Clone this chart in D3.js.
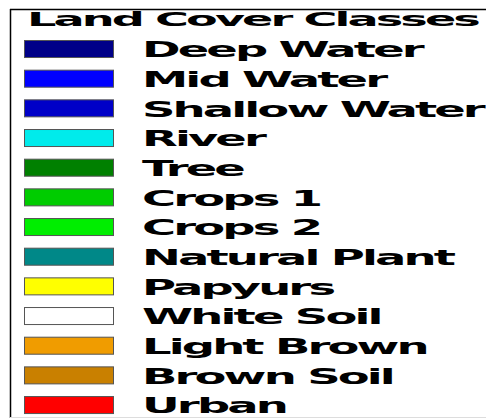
<!DOCTYPE html>
<html>
<head>
<meta charset="utf-8">
<script src="https://cdn.jsdelivr.net/npm/d3@7"></script>
<style>
  html, body { margin: 0; padding: 0; background: #fff; }
  svg { display: block; }
</style>
</head>
<body>
<div id="chart"></div>
<script>
// ---- data ----
const title = "Land Cover Classes";
const categories = ["Deep Water", "Mid Water", "Shallow Water", "River", "Tree", "Crops 1",
  "Crops 2", "Natural Plant", "Papyurs", "White Soil", "Light Brown", "Brown Soil", "Urban"];
const colors = ["#000088", "#0000ff", "#0000c8", "#00ebeb", "#008000", "#00cc00",
  "#00ee00", "#008888", "#ffff00", "#ffffff", "#f09c00", "#c98000", "#ff0000"];

// ---- layout ----
const W = 486, H = 418;
const svg = d3.select("#chart").append("svg").attr("width", W).attr("height", H);
svg.append("rect").attr("width", W).attr("height", H).attr("fill", "#fff");

// frame
svg.append("line").attr("x1", 10).attr("x2", W).attr("y1", 9.5).attr("y2", 9.5)
  .attr("stroke", "#000").attr("stroke-width", 1.5);
svg.append("line").attr("x1", 10.5).attr("x2", 10.5).attr("y1", 9).attr("y2", H)
  .attr("stroke", "#000").attr("stroke-width", 1.5);
svg.append("line").attr("x1", 10).attr("x2", W).attr("y1", 417.5).attr("y2", 417.5)
  .attr("stroke", "#ddd").attr("stroke-width", 1);

const color = d3.scaleOrdinal().domain(categories).range(colors);
const pitch = 29.67, p = 0.393;
const y = d3.scaleBand().domain(categories)
  .range([40, 40 + categories.length * pitch - pitch * p])
  .paddingInner(p).paddingOuter(0);

const font = "'DejaVu Sans', sans-serif";

// title
const tg = svg.append("g");
const tt = tg.append("text").text(title)
  .attr("font-family", font).attr("font-weight", "bold").attr("font-size", 19)
  .attr("letter-spacing", -1.2)
  .attr("fill", "#000");
const tw = tt.node().getComputedTextLength();
tg.attr("transform", `translate(27,25.5) scale(${451 / tw},1)`);

// rows
const rows = svg.selectAll("g.row").data(categories).join("g").attr("class", "row");
rows.append("rect")
  .attr("x", 24.5).attr("y", d => y(d) + 0.5)
  .attr("width", 89).attr("height", y.bandwidth() - 1)
  .attr("fill", d => color(d)).attr("stroke", "#555").attr("stroke-width", 1);

const lg = rows.append("g");
const lt = lg.append("text").text(d => d)
  .attr("font-family", font).attr("font-weight", "bold").attr("font-size", 21)
  .attr("letter-spacing", -1.3)
  .attr("fill", "#000");
let maxW = 0;
lt.each(function() { maxW = Math.max(maxW, this.getComputedTextLength()); });
const sx = 341 / maxW;
lg.attr("transform", d => `translate(142,${y(d) + y.bandwidth() / 2 + 8.2}) scale(${sx},1)`);
</script>
</body>
</html>
